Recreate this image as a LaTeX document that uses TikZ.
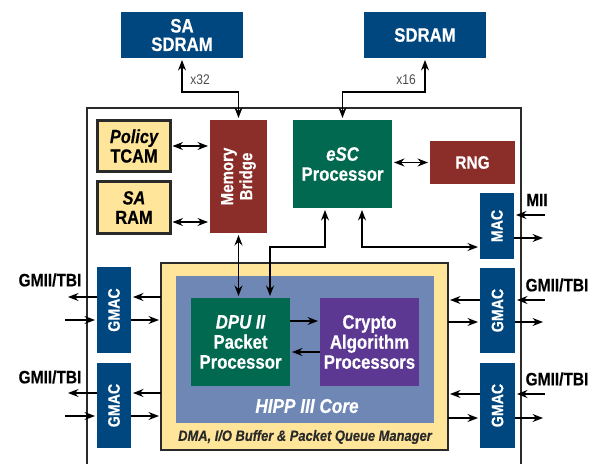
\documentclass[tikz,border=0pt]{standalone}
\usepackage{fontspec}
\setmainfont{Liberation Sans}[FakeStretch=0.86, BoldFeatures={FakeBold=0.35}, BoldItalicFeatures={FakeBold=0.35}]
\usetikzlibrary{arrows.meta,calc}
\definecolor{dblue}{HTML}{00467F}
\definecolor{dred}{HTML}{8B2E2A}
\definecolor{dgreen}{HTML}{00694F}
\definecolor{dpurple}{HTML}{5C3893}
\definecolor{lyellow}{HTML}{FFE59A}
\definecolor{hblue}{HTML}{6E87B5}
\definecolor{edge}{HTML}{2A2A2A}
\begin{document}
\begin{tikzpicture}[x=1pt,y=-1pt,>={Stealth[length=10.5pt,width=8pt,inset=3.5pt]}]
\tikzset{
  blk/.style={inner sep=0pt, outer sep=0pt, text=white, align=center,
    font=\bfseries\fontsize{19.5}{20}\selectfont},
  ybox/.style={blk, fill=lyellow, draw=edge, line width=3pt, text=black,
    font=\bfseries\fontsize{19}{19.5}\selectfont},
  conn/.style={line width=1.3pt, draw=black},
  dbl/.style={conn, <->, shorten >=2pt, shorten <=2pt},
  sgl/.style={conn, ->, shorten >=2pt},
  lbl/.style={inner sep=0pt, text=black, font=\bfseries\fontsize{18}{20}\selectfont},
  wid/.style={inner sep=0pt, text=black!70, font=\fontsize{14}{16}\selectfont},
  rot/.style={inner sep=0pt, text=white, rotate=90, align=center,
    font=\bfseries\fontsize{16.5}{19}\selectfont}
}
\useasboundingbox (0,0) rectangle (600,464);
% outer chip outline
\draw[line width=1.5pt, draw=edge] (87,464) -- (87,108) -- (521,108) -- (521,464);

% external memories
\node[blk, fill=dblue, minimum width=122pt, minimum height=46pt,
  font=\bfseries\fontsize{19.5}{18.5}\selectfont] (sasd) at (182,35) {SA\\SDRAM};
\node[blk, fill=dblue, minimum width=122pt, minimum height=46pt] (sdram) at (425,35) {SDRAM};

% inner blocks
\node[blk, fill=dred, minimum width=57pt, minimum height=113pt] (mb) at (238.5,176.5) {};
\node[rot, font=\bfseries\fontsize{17.5}{19}\selectfont] at (mb) {Memory\\Bridge};
\node[blk, fill=dgreen, minimum width=99pt, minimum height=88pt] (esc) at (342.5,164) {{\itshape eSC}\\Processor};
\node[blk, fill=dred, minimum width=85pt, minimum height=43pt, font=\bfseries\fontsize{18}{20}\selectfont] (rng) at (472.5,162.5) {RNG};
\node[blk, fill=dblue, minimum width=34pt, minimum height=66pt] (mac) at (497,226) {};
\node[rot] at (mac) {MAC};
\node[ybox, minimum width=73pt, minimum height=51pt] (tcam) at (134,146) {{\itshape Policy}\\TCAM};
\node[ybox, minimum width=73pt, minimum height=52pt] (saram) at (134,207.5) {{\itshape SA}\\RAM};

% core
\node[blk, fill=lyellow, draw=edge, line width=2pt, minimum width=287pt, minimum height=187pt] (dma) at (304.5,356.5) {};
\node[blk, fill=hblue, minimum width=258pt, minimum height=147pt] (hipp) at (305,349.5) {};
\node[blk, fill=dgreen, minimum width=99pt, minimum height=88pt] (dpu) at (240.5,342) {{\itshape DPU II}\\Packet\\Processor};
\node[blk, fill=dpurple, minimum width=99pt, minimum height=88pt] (crypto) at (369.5,342) {Crypto\\Algorithm\\Processors};
\node[inner sep=0pt, text=white, font=\bfseries\itshape\fontsize{20}{22}\selectfont] (hippl) at (307,406) {HIPP III Core};
\node[inner sep=0pt, text=edge, font=\bfseries\itshape\fontsize{15}{17}\selectfont] (dmal) at (305,437) {DMA, I/O Buffer \& Packet Queue Manager};

% GMACs
\node[blk, fill=dblue, minimum width=34pt, minimum height=86pt] (lg1) at (114,310) {};
\node[rot] at (lg1) {GMAC};
\node[blk, fill=dblue, minimum width=34pt, minimum height=85pt] (lg2) at (114,405.5) {};
\node[rot] at (lg2) {GMAC};
\node[blk, fill=dblue, minimum width=35pt, minimum height=85pt] (rg1) at (497.5,310.5) {};
\node[rot] at (rg1) {GMAC};
\node[blk, fill=dblue, minimum width=35pt, minimum height=85pt] (rg2) at (497.5,405.5) {};
\node[rot] at (rg2) {GMAC};

% labels
\node[lbl] (gl1) at (50,280) {GMII/TBI};
\node[lbl] (gl2) at (50,377) {GMII/TBI};
\node[lbl] (gr1) at (557,285) {GMII/TBI};
\node[lbl] (gr2) at (557,379) {GMII/TBI};
\node[lbl] (mii) at (537,200) {MII};
\node[wid] (w32) at (200,80) {x32};
\node[wid] (w16) at (406,80) {x16};

% free ends
\coordinate (lo1) at (66,297);
\coordinate (li1) at (65,320);
\coordinate (lo2) at (66,393);
\coordinate (li2) at (65,416);
\coordinate (ri1) at (545,300);
\coordinate (ro1) at (545,322);
\coordinate (ri2) at (545,394);
\coordinate (ro2) at (545,418);
\coordinate (miiin) at (545,215);
\coordinate (macout) at (545,238);

% memory connectors
\draw[dbl] (sasd.south) -- ++(0,34) -| (mb.north);
\draw[dbl] (sdram.south) -- ++(0,34) -| (esc.north);
\draw[dbl] (tcam.east) -- (tcam.east -| mb.west);
\draw[dbl] ([yshift=-14.5pt]saram.east) -- ([yshift=-14.5pt]saram.east -| mb.west);
\draw[dbl] (esc.east |- rng.west) -- (rng.west);
\draw[dbl] (mb.south) -- (mb.south |- dpu.north);
\draw[dbl] ([xshift=-17.5pt]esc.south) -- ++(0,39) -| ([xshift=29.5pt]dpu.north);
\draw[dbl] ([xshift=19.5pt]esc.south) |- ([yshift=-21pt]mac.west);
\draw[sgl] ([yshift=21pt]dpu.east) -- ([yshift=21pt]dpu.east -| crypto.west);
\draw[sgl] ([yshift=-10pt]crypto.west) -- ([yshift=-10pt]crypto.west -| dpu.east);

% MII / MAC
\draw[sgl] (miiin) -- (miiin -| mac.east);
\draw[sgl] ([yshift=-12pt]mac.east) -- (macout);

% left GMACs
\draw[sgl] ([yshift=13pt]lg1.east -| dma.west) -- ([yshift=13pt]lg1.east);
\draw[sgl] ([yshift=13pt]lg1.west) -- (lo1);
\draw[sgl] (li1) -- (li1 -| lg1.west);
\draw[sgl] ([yshift=-10pt]lg1.east) -- ([yshift=-10pt]lg1.east -| dma.west);
\draw[sgl] ([yshift=12.5pt]lg2.east -| dma.west) -- ([yshift=12.5pt]lg2.east);
\draw[sgl] ([yshift=12.5pt]lg2.west) -- (lo2);
\draw[sgl] (li2) -- (li2 -| lg2.west);
\draw[sgl] ([yshift=-10.5pt]lg2.east) -- ([yshift=-10.5pt]lg2.east -| dma.west);

% right GMACs
\draw[sgl] (ri1) -- (ri1 -| rg1.east);
\draw[sgl] ([yshift=10.5pt]rg1.west) -- ([yshift=10.5pt]rg1.west -| dma.east);
\draw[sgl] ([yshift=-11.5pt]rg1.west -| dma.east) -- ([yshift=-11.5pt]rg1.west);
\draw[sgl] ([yshift=-11.5pt]rg1.east) -- (ro1);
\draw[sgl] (ri2) -- (ri2 -| rg2.east);
\draw[sgl] ([yshift=11.5pt]rg2.west) -- ([yshift=11.5pt]rg2.west -| dma.east);
\draw[sgl] ([yshift=-12.5pt]rg2.west -| dma.east) -- ([yshift=-12.5pt]rg2.west);
\draw[sgl] ([yshift=-12.5pt]rg2.east) -- (ro2);
\end{tikzpicture}
\end{document}
